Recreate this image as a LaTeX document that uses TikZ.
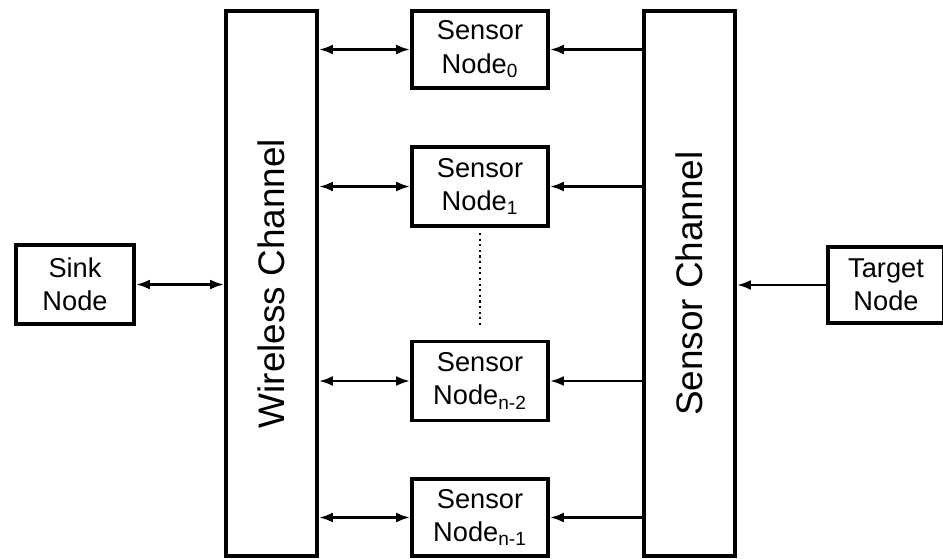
\documentclass[tikz,border=0pt]{standalone}
\usepackage{fontspec}
\setmainfont{Liberation Sans}
\usetikzlibrary{arrows.meta,positioning}

\begin{document}
\begin{tikzpicture}[x=0.02cm,y=-0.02cm]
	\useasboundingbox (0,0) rectangle (943,558);
	\begin{scope}[every node/.style={rectangle,draw,line width=2.2pt,align=center,inner sep=0pt,font=\fontsize{15.5}{19}\selectfont}]
		\node[minimum width=2.36cm,minimum height=1.58cm] (Sink) at (75,284.5) {Sink\\Node};
		\node[rotate=90,minimum width=10.9cm,minimum height=1.82cm,font=\fontsize{21}{25}\selectfont] (Wireless) at (271.5,283.5) {Wireless Channel};
		\node[minimum width=2.72cm,minimum height=1.54cm] (SN0) at (480,49.5) {Sensor\\Node\textsubscript{0}};
		\node[minimum width=2.72cm,minimum height=1.58cm] (SN1) at (480,186.5) {Sensor\\Node\textsubscript{1}};
		\node[minimum width=2.72cm,minimum height=1.58cm] (SNn2) at (480,381) {Sensor\\Node\textsubscript{n-2}};
		\node[minimum width=2.72cm,minimum height=1.54cm] (SNn1) at (480,517.5) {Sensor\\Node\textsubscript{n-1}};
		\node[rotate=90,minimum width=10.9cm,minimum height=1.82cm,font=\fontsize{21}{25}\selectfont] (SensorCh) at (689.5,283.5) {Sensor Channel};
		\node[minimum width=2.32cm,minimum height=1.52cm] (Target) at (886,285) {Target\\Node};
	\end{scope}

	\begin{scope}[line width=1.5pt]
	\draw[{Latex[length=2.8mm,width=2mm]}-{Latex[length=2.8mm,width=2mm]}] (Sink.east) -- (Sink.east -| Wireless.north);
	\draw[{Latex[length=2.8mm,width=2mm]}-{Latex[length=2.8mm,width=2mm]}] (SN0.west -| Wireless.south) -- (SN0.west);
	\draw[{Latex[length=2.8mm,width=2mm]}-{Latex[length=2.8mm,width=2mm]}] (SN1.west -| Wireless.south) -- (SN1.west);
	\draw[{Latex[length=2.8mm,width=2mm]}-{Latex[length=2.8mm,width=2mm]}] (SNn2.west -| Wireless.south) -- (SNn2.west);
	\draw[{Latex[length=2.8mm,width=2mm]}-{Latex[length=2.8mm,width=2mm]}] (SNn1.west -| Wireless.south) -- (SNn1.west);
	\draw[-{Latex[length=2.8mm,width=2mm]}] (SN0.east -| SensorCh.north) -- (SN0.east);
	\draw[-{Latex[length=2.8mm,width=2mm]}] (SN1.east -| SensorCh.north) -- (SN1.east);
	\draw[-{Latex[length=2.8mm,width=2mm]}] (SNn2.east -| SensorCh.north) -- (SNn2.east);
	\draw[-{Latex[length=2.8mm,width=2mm]}] (SNn1.east -| SensorCh.north) -- (SNn1.east);
	\draw[-{Latex[length=2.8mm,width=2mm]}] (Target.west) -- (Target.west -| SensorCh.south);
	\draw[dotted,line width=1.2pt,shorten <=0.1cm,shorten >=0.3cm] (SN1.south) -- (SNn2.north);
	\end{scope}
\end{tikzpicture}
\end{document}
